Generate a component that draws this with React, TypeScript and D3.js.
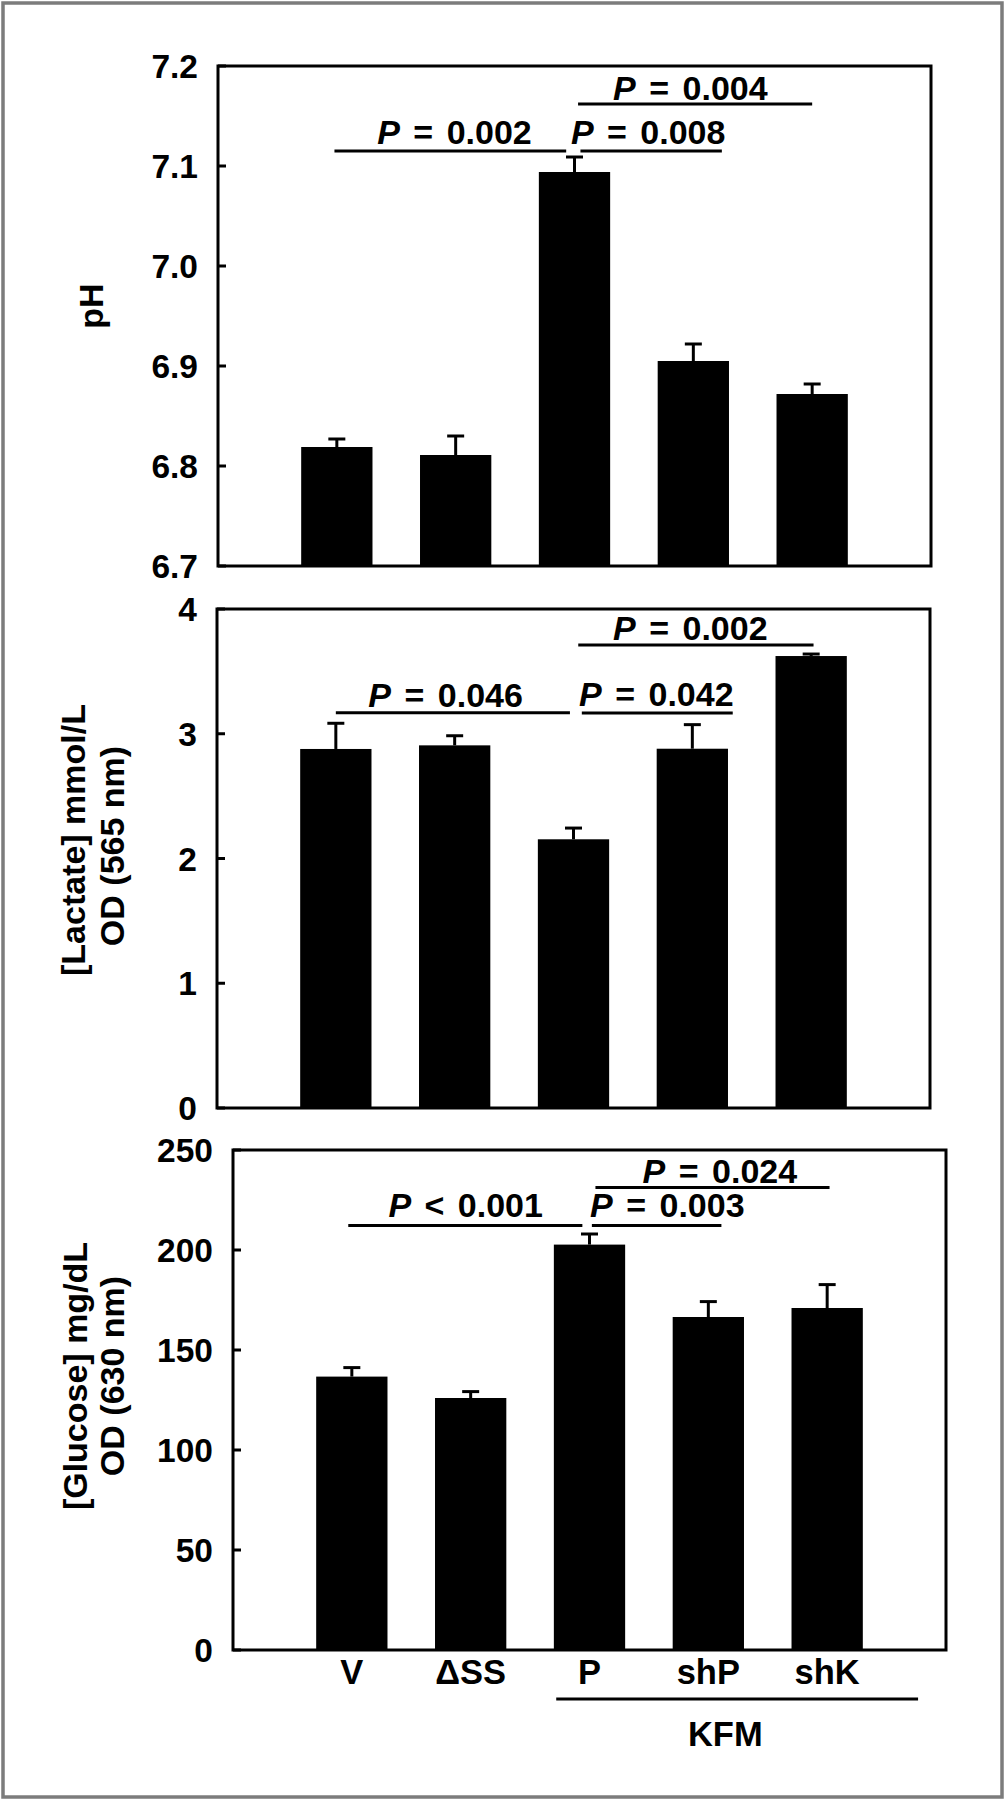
import React from "react";
import * as d3 from "d3";

// ---------- data ----------
const categories = ["V", "ΔSS", "P", "shP", "shK"];

const phMean = [6.819, 6.811, 7.094, 6.905, 6.872];
const phErr = [0.008, 0.019, 0.015, 0.017, 0.01];
const phTicks = [6.7, 6.8, 6.9, 7.0, 7.1, 7.2];

const lactateMean = [2.878, 2.907, 2.154, 2.88, 3.623];
const lactateErr = [0.206, 0.077, 0.09, 0.193, 0.016];
const lactateTicks = [0, 1, 2, 3, 4];

const glucoseMean = [136.7, 126.0, 202.7, 166.5, 171.0];
const glucoseErr = [4.5, 3.2, 5.3, 7.7, 11.7];
const glucoseTicks = [0, 50, 100, 150, 200, 250];

// significance brackets: start/end in category-index units, line value, label centre (index), label baseline value, text
type Sig = { a: number; b: number; v: number; lx: number; lv: number; op: string; p: string };
const phSig: Sig[] = [
  { a: -0.02, b: 1.93, v: 7.115, lx: 0.99, lv: 7.1217, op: "=", p: "0.002" },
  { a: 2.05, b: 3.24, v: 7.115, lx: 2.62, lv: 7.1217, op: "=", p: "0.008" },
  { a: 2.03, b: 4.0, v: 7.162, lx: 2.975, lv: 7.166, op: "=", p: "0.004" },
];
const lactateSig: Sig[] = [
  { a: 0.0, b: 1.97, v: 3.169, lx: 0.924, lv: 3.217, op: "=", p: "0.046" },
  { a: 2.07, b: 3.34, v: 3.166, lx: 2.697, lv: 3.222, op: "=", p: "0.042" },
  { a: 2.04, b: 4.02, v: 3.711, lx: 2.983, lv: 3.751, op: "=", p: "0.002" },
];
const glucoseSig: Sig[] = [
  { a: -0.03, b: 1.94, v: 212.2, lx: 0.958, lv: 216.6, op: "<", p: "0.001" },
  { a: 2.02, b: 3.11, v: 212.2, lx: 2.655, lv: 216.6, op: "=", p: "0.003" },
  { a: 2.05, b: 4.02, v: 231.2, lx: 3.097, lv: 233.5, op: "=", p: "0.024" },
];

const groupLabel = "KFM";
const groupSpan = [1.72, 4.765];
const groupLabelPos = 3.143;

// ---------- layout ----------
const FONT = "'Liberation Sans', Arial, Helvetica, sans-serif";
const W = 1005;
const H = 1800;

type PanelProps = {
  x0: number; x1: number; y0: number; y1: number;
  domain: [number, number];
  ticks: number[];
  fmt: (v: number) => string;
  means: number[];
  errs: number[];
  sig: Sig[];
  titles: { text: string; x: number; cy: number }[];
  showX?: boolean;
};

function Panel(p: PanelProps) {
  const xi = d3.scaleLinear().domain([-1, categories.length]).range([p.x0, p.x1]);
  const step = xi(1) - xi(0);
  const bw = step * 0.6;
  const y = d3.scaleLinear().domain(p.domain).range([p.y1, p.y0]);
  const capW = 17;
  return (
    <g>
      {/* bars */}
      {p.means.map((m, i) => (
        <rect key={"b" + i} x={xi(i) - bw / 2} y={y(m)} width={bw} height={y(p.domain[0]) - y(m)} fill="#000" />
      ))}
      {/* error bars */}
      {p.means.map((m, i) => (
        <g key={"e" + i} stroke="#000" strokeWidth={3}>
          <line x1={xi(i)} x2={xi(i)} y1={y(m)} y2={y(m + p.errs[i])} />
          <line x1={xi(i) - capW / 2} x2={xi(i) + capW / 2} y1={y(m + p.errs[i])} y2={y(m + p.errs[i])} />
        </g>
      ))}
      {/* frame */}
      <rect x={p.x0} y={p.y0} width={p.x1 - p.x0} height={p.y1 - p.y0} fill="none" stroke="#000" strokeWidth={3} />
      {/* ticks */}
      {p.ticks.map((t, i) => (
        <g key={"t" + i}>
          <line x1={p.x0} x2={p.x0 + 8} y1={y(t)} y2={y(t)} stroke="#000" strokeWidth={3} />
          <text x={p.x0 - 20} y={y(t)} dy="0.36em" textAnchor="end" fontSize={33.5} fontWeight="bold" fontFamily={FONT}>
            {p.fmt(t)}
          </text>
        </g>
      ))}
      {/* significance */}
      {p.sig.map((s, i) => (
        <g key={"s" + i}>
          <line x1={xi(s.a)} x2={xi(s.b)} y1={y(s.v)} y2={y(s.v)} stroke="#000" strokeWidth={3} />
          <text x={xi(s.lx)} y={y(s.lv)} textAnchor="middle" fontSize={34} fontWeight="bold" fontFamily={FONT} style={{ wordSpacing: "4px" }}>
            <tspan fontStyle="italic">P</tspan>
            <tspan>{" " + s.op + " " + s.p}</tspan>
          </text>
        </g>
      ))}
      {/* y titles */}
      {p.titles.map((t, i) => (
        <text key={"yt" + i} transform={`translate(${t.x},${t.cy}) rotate(-90)`} textAnchor="middle" fontSize={34} fontWeight="bold" fontFamily={FONT}>
          {t.text}
        </text>
      ))}
      {/* x labels */}
      {p.showX && (
        <g>
          {categories.map((c, i) => (
            <text key={"x" + i} x={xi(i)} y={1684} textAnchor="middle" fontSize={34.5} fontWeight="bold" fontFamily={FONT}>
              {c}
            </text>
          ))}
          <line x1={xi(groupSpan[0])} x2={xi(groupSpan[1])} y1={1699} y2={1699} stroke="#000" strokeWidth={3} />
          <text x={xi(groupLabelPos)} y={1746} textAnchor="middle" fontSize={34.5} fontWeight="bold" fontFamily={FONT}>
            {groupLabel}
          </text>
        </g>
      )}
    </g>
  );
}

export default function App() {
  const f1 = d3.format(".1f");
  const f0 = d3.format("d");
  return (
    <div style={{ position: "absolute", left: 0, top: 0 }}>
      <svg width={W} height={H} viewBox={`0 0 ${W} ${H}`} style={{ display: "block", background: "#fff" }}>
        <rect x={0} y={0} width={W} height={H} fill="#fff" />
        <rect x={3} y={3} width={999} height={1794} fill="none" stroke="#7c7c7c" strokeWidth={3.5} />
        <Panel
          x0={218} x1={931} y0={66} y1={566}
          domain={[6.7, 7.2]} ticks={phTicks} fmt={f1}
          means={phMean} errs={phErr} sig={phSig}
          titles={[{ text: "pH", x: 103, cy: 306 }]}
        />
        <Panel
          x0={217} x1={930} y0={609} y1={1108}
          domain={[0, 4]} ticks={lactateTicks} fmt={f0}
          means={lactateMean} errs={lactateErr} sig={lactateSig}
          titles={[
            { text: "[Lactate] mmol/L", x: 85, cy: 840 },
            { text: "OD (565 nm)", x: 124, cy: 846 },
          ]}
        />
        <Panel
          x0={233} x1={946} y0={1150} y1={1650}
          domain={[0, 250]} ticks={glucoseTicks} fmt={f0}
          means={glucoseMean} errs={glucoseErr} sig={glucoseSig}
          titles={[
            { text: "[Glucose] mg/dL", x: 87, cy: 1376 },
            { text: "OD (630 nm)", x: 124, cy: 1376 },
          ]}
          showX
        />
      </svg>
    </div>
  );
}
